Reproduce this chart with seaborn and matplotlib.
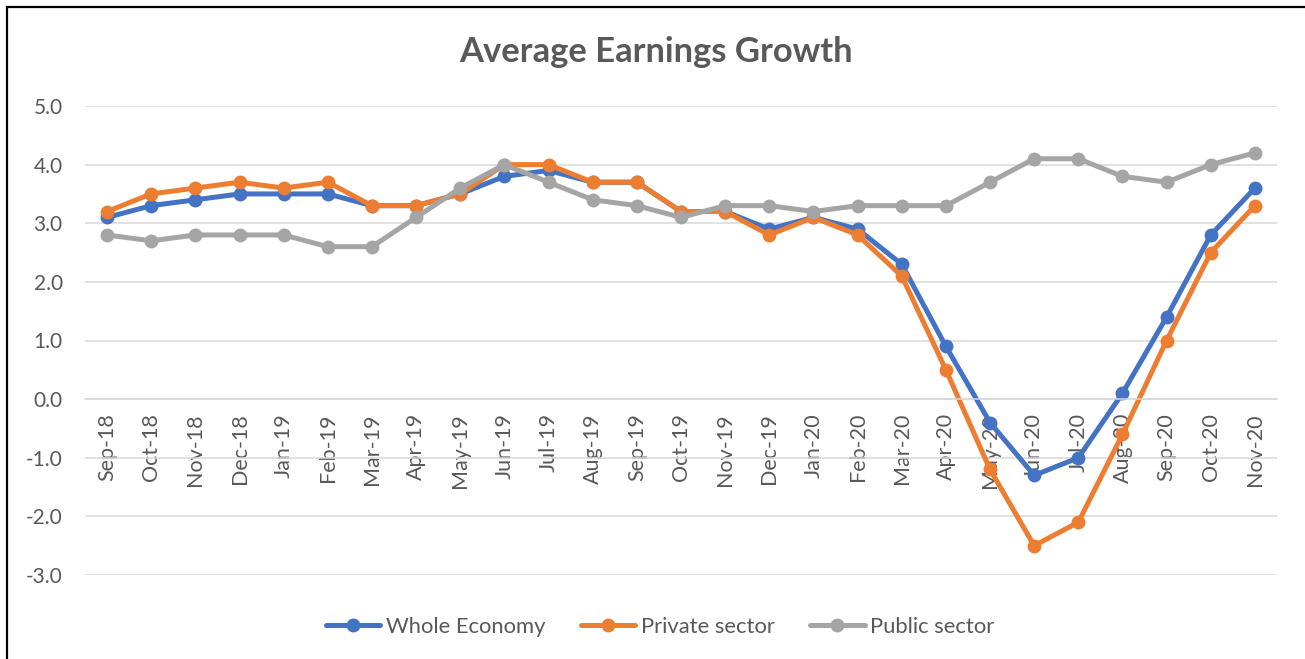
import matplotlib
matplotlib.use('Agg')
import matplotlib.pyplot as plt
import seaborn as sns
import pandas as pd
from matplotlib.patches import Rectangle
from matplotlib.ticker import FixedLocator, FormatStrFormatter

months = ['Sep-18', 'Oct-18', 'Nov-18', 'Dec-18', 'Jan-19', 'Feb-19', 'Mar-19',
          'Apr-19', 'May-19', 'Jun-19', 'Jul-19', 'Aug-19', 'Sep-19', 'Oct-19',
          'Nov-19', 'Dec-19', 'Jan-20', 'Feb-20', 'Mar-20', 'Apr-20', 'May-20',
          'Jun-20', 'Jul-20', 'Aug-20', 'Sep-20', 'Oct-20', 'Nov-20']
whole = [3.1, 3.3, 3.4, 3.5, 3.5, 3.5, 3.3, 3.3, 3.5, 3.8, 3.9, 3.7, 3.7, 3.2,
         3.2, 2.9, 3.1, 2.9, 2.3, 0.9, -0.4, -1.3, -1.0, 0.1, 1.4, 2.8, 3.6]
private = [3.2, 3.5, 3.6, 3.7, 3.6, 3.7, 3.3, 3.3, 3.5, 4.0, 4.0, 3.7, 3.7, 3.2,
           3.2, 2.8, 3.1, 2.8, 2.1, 0.5, -1.2, -2.5, -2.1, -0.6, 1.0, 2.5, 3.3]
public = [2.8, 2.7, 2.8, 2.8, 2.8, 2.6, 2.6, 3.1, 3.6, 4.0, 3.7, 3.4, 3.3, 3.1,
          3.3, 3.3, 3.2, 3.3, 3.3, 3.3, 3.7, 4.1, 4.1, 3.8, 3.7, 4.0, 4.2]
series_names = ['Whole Economy', 'Private sector', 'Public sector']
colors = ['#4472C4', '#ED7D31', '#A5A5A5']

df = pd.concat([
    pd.DataFrame({'month': months, 'value': vals, 'series': name})
    for name, vals in zip(series_names, [whole, private, public])
])

sns.set_style('white')
plt.rcParams['font.family'] = ['Lato', 'DejaVu Sans']
plt.rcParams['axes.unicode_minus'] = False

W, H = 1305, 659
fig = plt.figure(figsize=(W / 100, H / 100), dpi=100)
ax = fig.add_axes([85 / W, 1 - 575 / H, (1277 - 85) / W, (575 - 106) / H])

sns.lineplot(data=df, x='month', y='value', hue='series', style='series',
             palette=colors, markers=['o', 'o', 'o'], dashes=False,
             linewidth=3.6, markersize=10, markeredgewidth=0, ax=ax)

grey = '#595959'
ax.set_ylim(-3, 5)
ax.set_xlim(-0.5, len(months) - 0.5)
ax.yaxis.set_major_locator(FixedLocator(range(-3, 6)))
ax.yaxis.set_major_formatter(FormatStrFormatter('%.1f'))
ax.grid(axis='y', color='#D9D9D9', linewidth=1.1)
ax.set_axisbelow(True)
for s in ['top', 'right', 'left']:
    ax.spines[s].set_visible(False)
ax.spines['bottom'].set_position(('data', 0))
ax.spines['bottom'].set_color('#D9D9D9')
ax.spines['bottom'].set_linewidth(1.1)
ax.set_xticks(range(len(months)))
ax.set_xticklabels(months, rotation=90, va='top', ha='center')
ax.set_xticks([k - 0.5 for k in range(len(months) + 1)], minor=True)
ax.tick_params(axis='x', which='major', length=0, pad=10, labelsize=15.5, labelcolor=grey)
ax.tick_params(axis='x', which='minor', length=5, width=1.1, color='#D9D9D9', direction='out')
ax.tick_params(axis='y', length=0, pad=16, labelsize=15, labelcolor=grey)
ax.set_xlabel('')
ax.set_ylabel('')

fig.text(656 / W, 1 - 52 / H, 'Average Earnings Growth', ha='center', va='center',
         fontsize=24.8, fontweight='bold', color=grey)

handles, labels = ax.get_legend_handles_labels()
ax.legend().remove()
fig.legend(handles, labels, loc='center', bbox_to_anchor=(660 / W, 1 - 627 / H),
           ncols=3, frameon=False, fontsize=15.8, handlelength=2.5,
           handletextpad=0.25, columnspacing=1.6, labelcolor=grey)

# chart frame: only left and top edges fall inside the image
fig.add_artist(Rectangle((7 / W, -0.2), 1.2, (1 - 7 / H) + 0.2, transform=fig.transFigure,
                         fill=False, edgecolor='black', linewidth=1.6, clip_on=False))

fig.savefig('out.png', dpi=100)
